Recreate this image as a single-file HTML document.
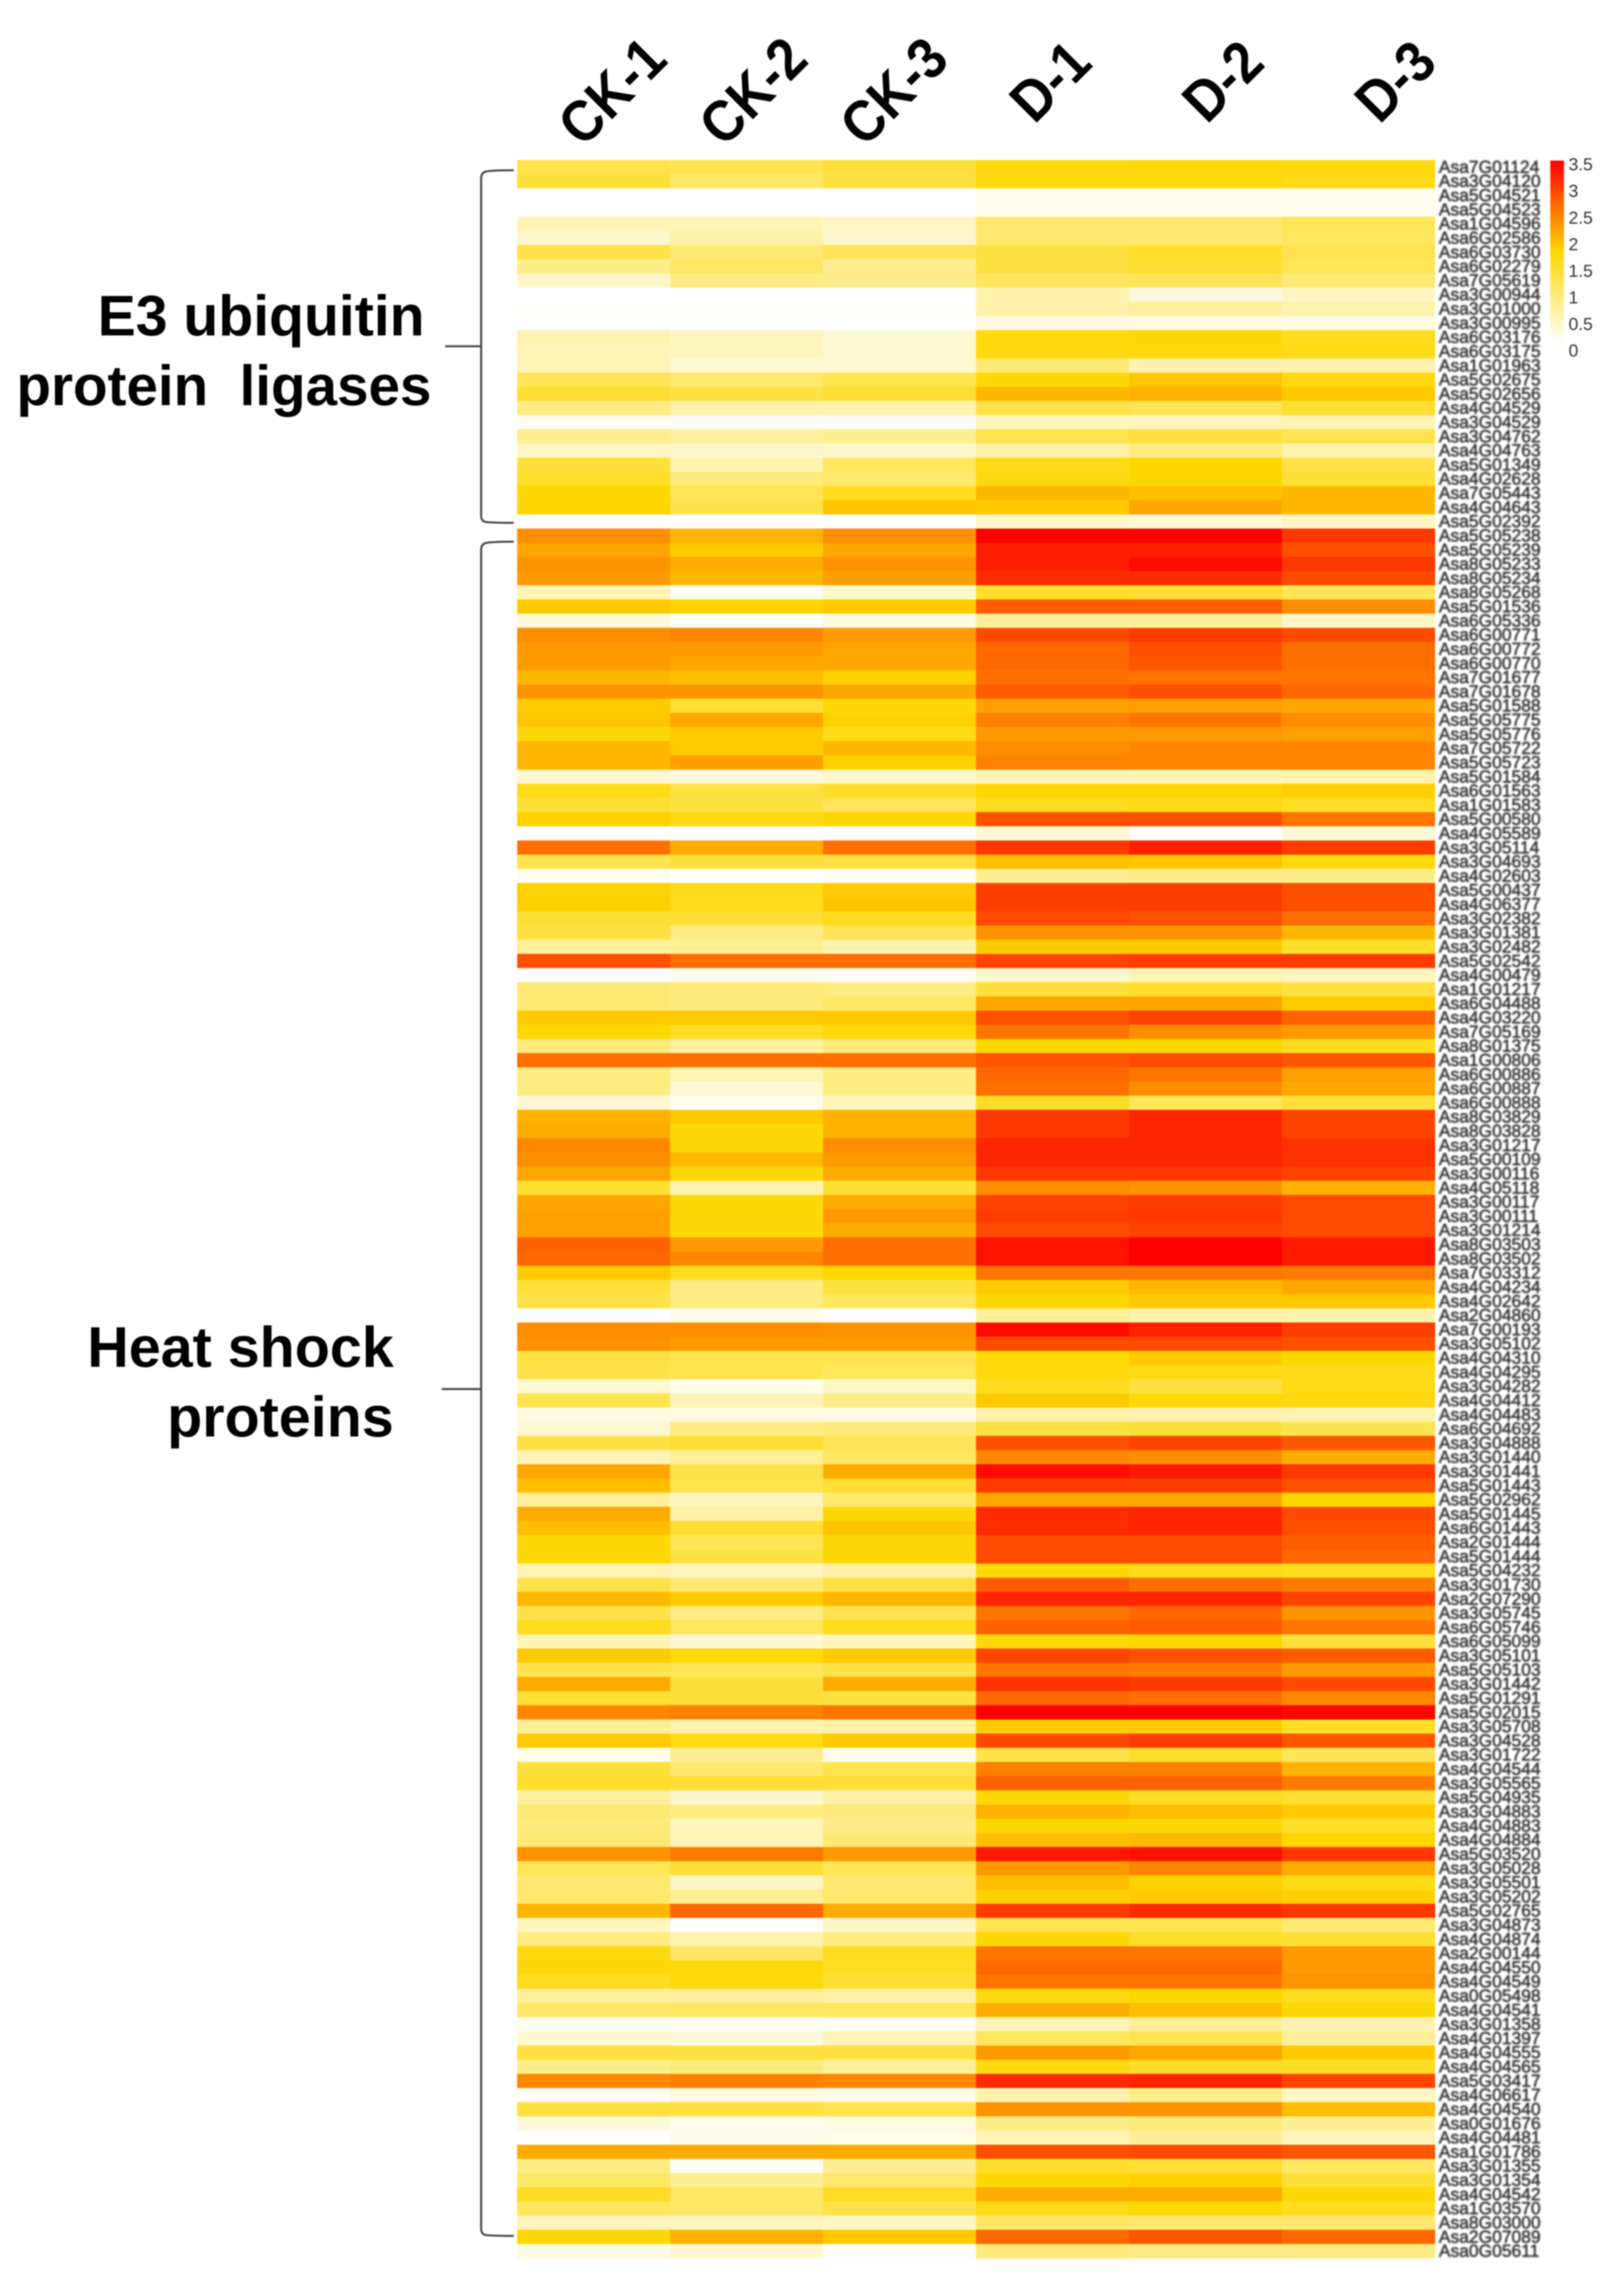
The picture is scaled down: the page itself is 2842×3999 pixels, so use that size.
<!DOCTYPE html>
<html lang="en">
<head>
<meta charset="utf-8">
<title>Heatmap of E3 ubiquitin protein ligases and heat shock proteins</title>
<style>
  html, body { margin: 0; padding: 0; background: #fff; }
  #chart { display: block; filter: blur(1.1px); }
  text { font-family: "Liberation Sans", sans-serif; }
  .group-title { font-weight: 700; fill: #000; white-space: pre; }
  .sample { font-weight: 700; fill: #000; font-size: 102px; }
  #genes { filter: blur(1.2px); }
  .gene { font-size: 30.5px; fill: #333; stroke: #333; stroke-width: 0.9px; }
  .legend-tick { font-size: 30.5px; fill: #333; }
  .bracket { fill: none; stroke: #444; stroke-width: 3.5; }
</style>
</head>
<body>
<svg id="chart" xmlns="http://www.w3.org/2000/svg" width="2842" height="3999" viewBox="0 0 2842 3999">
  <rect x="0" y="0" width="2842" height="3999" fill="#fff"/>
  <g id="cells"></g>
  <g id="samples"></g>
  <g id="genes"></g>
  <g id="legend"></g>

  <path class="bracket" d="M899 298 Q855 298 848 301 Q842 304 842 312 L842 902 Q842 911 848 913 Q855 915 899 915 M779 606 L842 606"/>
  <path class="bracket" d="M899 948 Q855 948 848 951 Q842 954 842 962 L842 3900 Q842 3909 848 3911 Q855 3913 899 3913 M773 2431 L842 2431"/>

  <text class="group-title" x="743" y="587" font-size="100" text-anchor="end">E3 ubiquitin</text>
  <text class="group-title" x="755" y="709" font-size="99" text-anchor="end">protein  ligases</text>
  <text class="group-title" x="689" y="2392" font-size="100.5" text-anchor="end">Heat shock</text>
  <text class="group-title" x="689" y="2514" font-size="100.5" text-anchor="end">proteins</text>
</svg>

<script>
const sampleNames = ["CK-1", "CK-2", "CK-3", "D-1", "D-2", "D-3"];

// Rows: CK-1, CK-2, CK-3, D-1, D-2, D-3 (values estimated from the colour scale)
const e3Values = [
  [1.25,1.2,1.35,1.65,1.7,1.65],
  [1.35,1.05,1.3,1.65,1.65,1.6],
  [0,0,0,0.1,0.1,0.1],
  [0,0,0,0.1,0.1,0.1],
  [0.5,0.5,0.4,1.0,1.0,1.15],
  [0.35,0.6,0.35,1.0,1.0,1.1],
  [1.25,0.95,1.15,1.3,1.45,1.2],
  [0.8,1.05,0.75,1.3,1.4,1.15],
  [0.35,0.85,0.8,1.1,1.15,0.95],
  [0,0,0,0.55,0.25,0.4],
  [0.03,0.03,0.03,0.6,0.65,0.55],
  [0,0,0,0.2,0.2,0.2],
  [0.55,0.45,0.3,1.65,1.7,1.55],
  [0.5,0.45,0.3,1.65,1.65,1.6],
  [0.5,0.3,0.3,0.95,0.55,0.55],
  [1.15,1.0,1.2,1.7,1.9,1.65],
  [1.4,1.3,1.4,2.0,2.05,1.85],
  [0.85,0.6,0.55,1.25,1.15,1.4],
  [0.1,0.07,0.07,0.45,0.45,0.5],
  [0.75,0.65,0.75,1.2,1.3,1.2],
  [0.4,0.35,0.35,0.6,0.85,0.55],
  [1.35,0.55,1.1,1.6,1.75,1.25],
  [1.45,0.9,1.0,1.65,1.75,1.4],
  [1.75,1.15,1.55,2.0,1.95,2.0],
  [1.75,1.25,1.9,1.85,2.15,2.0],
  [0,0,0,0.35,0.3,0.4]
];

const hspValues = [
  [2.35,2.05,2.35,3.5,3.5,3.05],
  [2.15,1.85,2.15,3.25,3.25,2.85],
  [2.3,2.1,2.3,3.25,3.4,3.05],
  [2.25,2.0,2.2,3.15,3.15,2.9],
  [0.5,0.1,0.35,1.45,1.4,1.15],
  [1.85,1.8,1.85,2.75,2.75,2.35],
  [0.25,0.05,0.2,0.7,0.7,0.4],
  [2.35,2.4,2.25,2.9,3.0,2.9],
  [2.25,2.25,2.15,2.65,2.85,2.6],
  [2.25,2.15,2.15,2.65,2.8,2.6],
  [2.0,1.95,1.8,2.6,2.55,2.55],
  [2.3,2.3,2.15,2.75,2.85,2.65],
  [1.85,1.4,1.7,2.2,2.2,2.15],
  [1.9,2.15,1.8,2.45,2.55,2.35],
  [1.7,1.85,1.6,2.25,2.25,2.2],
  [2.0,1.85,2.0,2.35,2.4,2.4],
  [2.0,2.2,1.8,2.45,2.4,2.4],
  [0.3,0.25,0.35,0.5,0.5,0.55],
  [1.6,1.3,1.45,1.75,1.75,1.8],
  [1.4,1.3,1.15,1.55,1.6,1.5],
  [1.8,1.65,1.75,2.85,2.85,2.55],
  [0,0,0,0.3,0.02,0.25],
  [2.6,2.1,2.6,3.05,3.25,3.0],
  [1.2,1.35,1.3,1.95,1.9,1.65],
  [0.1,0,0.08,0.75,0.8,0.8],
  [1.8,1.6,1.85,3.0,3.0,2.85],
  [1.8,1.55,1.9,3.0,3.0,2.85],
  [1.4,1.4,1.55,2.9,2.85,2.6],
  [1.3,0.85,1.15,2.3,2.3,2.0],
  [0.7,0.75,0.55,1.85,1.85,1.45],
  [2.85,2.6,2.6,2.95,3.0,3.0],
  [0,0.12,0.08,0.35,0.5,0.45],
  [0.95,0.9,0.85,1.35,1.45,1.3],
  [0.95,0.9,1.05,2.15,2.15,1.85],
  [1.85,1.85,1.85,2.85,2.95,2.7],
  [1.75,1.5,1.7,2.55,2.35,2.25],
  [0.9,0.65,0.9,1.75,1.75,1.55],
  [2.6,2.6,2.6,2.8,2.9,2.8],
  [0.85,0.5,0.85,2.65,2.55,2.2],
  [0.85,0.3,0.85,2.6,2.35,2.15],
  [0.3,0.12,0.45,1.5,1.15,1.35],
  [2.05,1.85,2.05,3.05,3.2,2.95],
  [2.1,1.7,2.05,3.05,3.2,2.95],
  [2.4,1.7,2.35,3.2,3.2,3.1],
  [2.35,2.0,2.25,3.2,3.2,3.1],
  [2.15,1.7,2.1,3.05,3.05,2.95],
  [1.4,0.55,1.4,2.35,2.3,2.05],
  [2.15,1.7,2.1,2.95,3.0,2.9],
  [2.2,1.7,2.25,3.0,3.05,2.9],
  [2.2,1.7,2.1,2.9,2.95,2.9],
  [2.7,2.25,2.6,3.35,3.5,3.3],
  [2.65,2.4,2.6,3.35,3.5,3.3],
  [1.85,1.55,1.75,2.55,2.55,2.5],
  [1.35,0.85,1.3,1.85,2.0,2.15],
  [1.25,0.85,1.1,1.75,1.85,1.85],
  [0,0.15,0,0.7,0.6,0.55],
  [2.35,2.35,2.3,3.4,3.25,3.0],
  [2.3,2.25,2.25,2.9,2.9,2.85],
  [1.3,1.2,1.2,1.7,1.85,1.75],
  [1.25,1.2,1.1,1.65,1.6,1.6],
  [0.3,0.15,0.4,1.55,1.3,1.6],
  [1.2,0.5,0.8,1.85,1.7,1.65],
  [0.2,0.2,0.2,0.6,0.55,0.55],
  [0.3,0.85,0.9,1.3,1.35,1.2],
  [1.3,1.4,1.15,2.85,2.95,2.8],
  [0.5,0.7,1.05,2.4,2.35,2.1],
  [2.15,1.25,2.1,3.4,3.3,3.05],
  [1.95,1.2,1.4,3.0,3.0,2.85],
  [0.7,0.45,1.0,2.15,2.15,1.75],
  [2.1,0.6,1.7,3.15,3.2,2.9],
  [1.95,1.4,1.9,3.15,3.2,2.85],
  [1.7,1.15,1.7,2.9,2.9,2.75],
  [1.7,1.3,1.7,2.9,2.9,2.65],
  [0.5,0.45,0.6,1.7,1.6,1.55],
  [1.25,0.95,1.3,2.75,2.6,2.5],
  [2.0,1.85,2.0,3.2,3.2,2.95],
  [1.25,0.85,1.2,2.55,2.65,2.3],
  [1.55,1.1,1.55,2.7,2.75,2.55],
  [0.5,0.3,0.45,1.7,1.75,1.35],
  [1.85,1.7,1.85,2.95,2.85,2.75],
  [1.2,1.15,1.25,2.55,2.5,2.25],
  [2.1,1.35,2.1,3.1,3.05,2.9],
  [1.4,1.35,1.3,2.65,2.6,2.4],
  [2.4,2.45,2.55,3.5,3.5,3.45],
  [0.7,0.55,0.6,1.85,1.85,1.5],
  [1.85,1.6,1.85,2.9,3.0,2.8],
  [0.15,0.75,0.12,1.25,1.45,1.15],
  [1.35,1.0,1.2,2.45,2.45,2.05],
  [1.45,1.4,1.35,2.7,2.7,2.5],
  [0.65,0.35,0.6,1.7,1.5,1.4],
  [0.95,0.85,0.9,2.05,1.95,1.85],
  [0.9,0.45,0.8,1.75,1.7,1.45],
  [0.95,0.5,0.95,1.95,2.0,1.75],
  [2.3,2.5,2.25,3.3,3.35,3.05],
  [1.15,1.35,1.15,2.25,2.4,2.1],
  [1.0,0.4,1.0,1.95,1.8,1.6],
  [1.0,0.75,1.0,1.8,1.85,1.8],
  [2.0,2.65,2.1,3.0,3.15,3.05],
  [0.45,0.05,0.4,1.2,1.2,0.95],
  [0.85,0.55,0.85,1.7,1.45,1.4],
  [1.65,1.05,1.55,2.55,2.55,2.25],
  [1.7,1.7,1.5,2.65,2.65,2.25],
  [1.55,1.65,1.4,2.55,2.55,2.3],
  [0.7,0.7,0.6,1.65,1.75,1.55],
  [1.05,1.1,1.1,2.1,1.95,1.7],
  [0.1,0.1,0.05,0.5,0.7,0.55],
  [0.3,0.25,0.5,1.1,1.2,0.7],
  [1.3,1.3,1.3,2.25,2.15,1.85],
  [0.8,0.9,0.7,1.65,1.5,1.5],
  [2.4,2.45,2.4,3.15,3.2,2.95],
  [0.07,0.2,0.15,0.55,0.8,0.4],
  [1.3,1.3,1.2,2.3,2.3,1.95],
  [0.25,0.12,0.2,0.8,0.9,0.75],
  [0,0.15,0.15,0.5,0.7,0.45],
  [2.1,2.1,2.1,2.85,2.9,2.8],
  [0.85,0.08,0.75,1.45,1.4,1.05],
  [1.05,0.75,1.0,1.7,1.8,1.4],
  [1.5,1.05,1.5,2.1,2.1,1.7],
  [1.1,1.05,1.25,1.6,1.7,1.55],
  [0.45,0.45,0.4,1.05,1.0,1.0],
  [1.7,2.05,1.85,2.65,2.8,2.65],
  [0.2,0.3,0.03,0.9,0.85,0.85]
];

const e3Genes = [
  "Asa7G01124","Asa3G04120","Asa5G04521","Asa5G04523","Asa1G04596","Asa6G02586","Asa6G03730","Asa6G02279",
  "Asa7G05619","Asa3G00944","Asa3G01000","Asa3G00995","Asa6G03176","Asa6G03175","Asa1G01963","Asa5G02675",
  "Asa5G02656","Asa4G04529","Asa3G04529","Asa3G04762","Asa4G04763","Asa5G01349","Asa4G02628","Asa7G05443",
  "Asa4G04643","Asa5G02392"
];

const hspGenes = [
  "Asa5G05238","Asa5G05239","Asa8G05233","Asa8G05234","Asa8G05268","Asa5G01536","Asa6G05336","Asa6G00771",
  "Asa6G00772","Asa6G00770","Asa7G01677","Asa7G01678","Asa5G01588","Asa5G05775","Asa5G05776","Asa7G05722",
  "Asa5G05723","Asa5G01584","Asa6G01563","Asa1G01583","Asa5G00580","Asa4G05589","Asa3G05114","Asa3G04693",
  "Asa4G02603","Asa5G00437","Asa4G06377","Asa3G02382","Asa3G01381","Asa3G02482","Asa5G02542","Asa4G00479",
  "Asa1G01217","Asa6G04488","Asa4G03220","Asa7G05169","Asa8G01375","Asa1G00806","Asa6G00886","Asa6G00887",
  "Asa6G00888","Asa8G03829","Asa8G03828","Asa3G01217","Asa5G00109","Asa3G00116","Asa4G05118","Asa3G00117",
  "Asa3G00111","Asa3G01214","Asa8G03503","Asa8G03502","Asa7G03312","Asa4G04234","Asa4G02642","Asa2G04860",
  "Asa7G00193","Asa3G05102","Asa4G04310","Asa4G04295","Asa3G04282","Asa4G04412","Asa4G04483","Asa6G04692",
  "Asa3G04888","Asa3G01440","Asa3G01441","Asa5G01443","Asa5G02962","Asa5G01445","Asa6G01443","Asa2G01444",
  "Asa5G01444","Asa5G04232","Asa3G01730","Asa2G07290","Asa3G05745","Asa6G05746","Asa6G05099","Asa3G05101",
  "Asa5G05103","Asa3G01442","Asa5G01291","Asa5G02015","Asa3G05708","Asa3G04528","Asa3G01722","Asa4G04544",
  "Asa3G05565","Asa5G04935","Asa3G04883","Asa4G04883","Asa4G04884","Asa5G03520","Asa3G05028","Asa3G05501",
  "Asa3G05202","Asa5G02765","Asa3G04873","Asa4G04874","Asa2G00144","Asa4G04550","Asa4G04549","Asa0G05498",
  "Asa4G04541","Asa3G01358","Asa4G01397","Asa4G04555","Asa4G04565","Asa5G03417","Asa4G06617","Asa4G04540",
  "Asa0G01676","Asa4G04481","Asa1G01786","Asa3G01355","Asa3G01354","Asa4G04542","Asa1G03570","Asa8G03000",
  "Asa2G07089","Asa0G05611"
];

const legendTicks = ["0", "0.5", "1", "1.5", "2", "2.5", "3", "3.5"];
const colorDomain = [0, 1.75, 3.5];

const plot = { left: 905, right: 2511, top: 280, bottom: 3952 };
const SVG_NS = "http://www.w3.org/2000/svg";

function svgEl(tag, parent) {
  const el = document.createElementNS(SVG_NS, tag);
  parent.appendChild(el);
  return el;
}

function colorScale(v) {
  const [lo, mid, hi] = colorDomain;
  const c = Math.max(lo, Math.min(hi, v));
  if (c <= mid) {
    const t = (c - lo) / (mid - lo);
    const g = Math.round(255 + (215 - 255) * t);
    const b = Math.round(255 * (1 - t));
    return "rgb(255," + g + "," + b + ")";
  }
  const t = (c - mid) / (hi - mid);
  return "rgb(255," + Math.round(215 * (1 - t)) + ",0)";
}

const allRows = e3Values.concat(hspValues);
const allGenes = e3Genes.concat(hspGenes);
const columnWidth = (plot.right - plot.left) / sampleNames.length;
const rowHeight = (plot.bottom - plot.top) / allRows.length;
const xScale = i => plot.left + i * columnWidth;
const yScale = i => plot.top + i * rowHeight;

const cellsGroup = document.getElementById("cells");
allRows.forEach((row, r) => {
  row.forEach((value, c) => {
    const cell = svgEl("rect", cellsGroup);
    cell.setAttribute("x", xScale(c));
    cell.setAttribute("y", yScale(r));
    cell.setAttribute("width", columnWidth + 0.5);
    cell.setAttribute("height", rowHeight + 0.5);
    cell.setAttribute("fill", colorScale(value));
    
    
  });
});

const genesGroup = document.getElementById("genes");
allGenes.forEach((gene, r) => {
  const label = svgEl("text", genesGroup);
  label.setAttribute("class", "gene");
  label.setAttribute("x", plot.right + 7);
  label.setAttribute("y", yScale(r) + rowHeight / 2 + 10);
  label.textContent = gene;
  
  
});

const samplesGroup = document.getElementById("samples");
sampleNames.forEach((name, i) => {
  const isControl = name.indexOf("CK") === 0;
  const px = isControl ? 1020 + i * 246.5 : 1810 + (i - 3) * 302;
  const py = isControl ? 260 : 219;
  const label = svgEl("text", samplesGroup);
  label.setAttribute("class", "sample");
  label.setAttribute("transform", "translate(" + px + "," + py + ") rotate(-45) scale(0.9,1)");
  label.textContent = name;
  
  
});

const legendGroup = document.getElementById("legend");
const legendBar = { left: 2713, right: 2737, top: 281, bottom: 600 };
const legendSteps = 80;
for (let s = 0; s < legendSteps; s++) {
  const stepHeight = (legendBar.bottom - legendBar.top) / legendSteps;
  const swatch = svgEl("rect", legendGroup);
  swatch.setAttribute("x", legendBar.left);
  swatch.setAttribute("y", legendBar.top + s * stepHeight);
  swatch.setAttribute("width", legendBar.right - legendBar.left);
  swatch.setAttribute("height", stepHeight + 0.5);
  swatch.setAttribute("fill", colorScale(colorDomain[2] * (1 - (s + 0.5) / legendSteps)));
  
  
}
legendTicks.forEach(tick => {
  const label = svgEl("text", legendGroup);
  label.setAttribute("class", "legend-tick");
  label.setAttribute("x", 2745);
  label.setAttribute("y", 613 - parseFloat(tick) * 93.1 + 11);
  label.textContent = tick;
  
  
});
</script>
</body>
</html>
